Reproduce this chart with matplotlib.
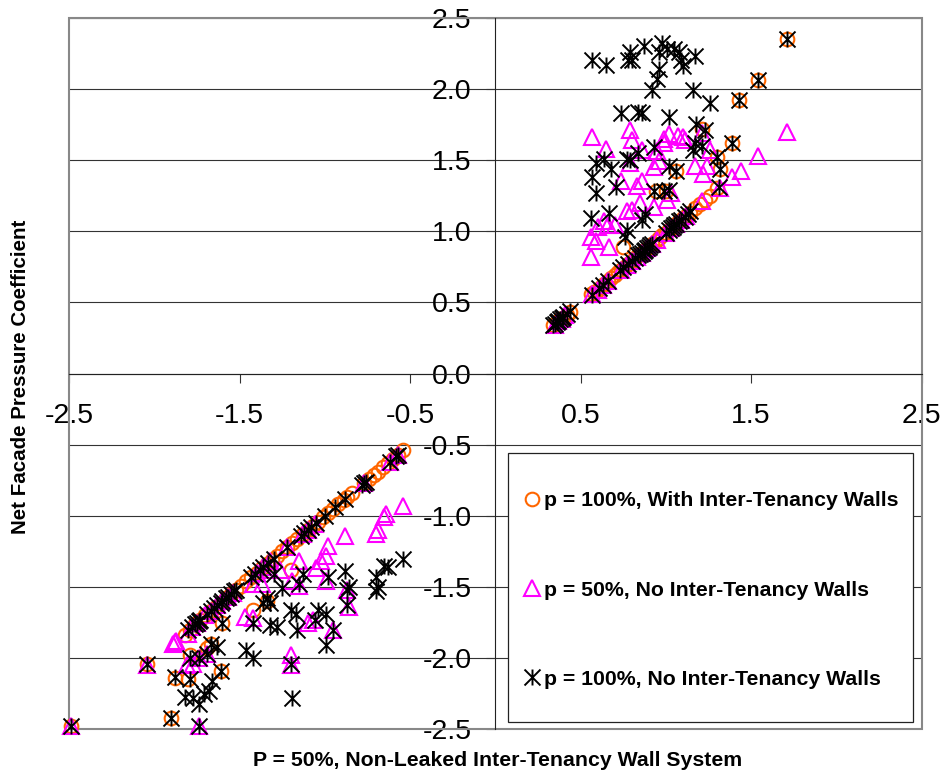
import matplotlib
matplotlib.use('Agg')
import matplotlib.pyplot as plt
from matplotlib.patches import Rectangle
from matplotlib.path import Path

plt.rcParams['font.family'] = ['Liberation Sans', 'DejaVu Sans']

# values
x_orange = [0.34, 0.36, 0.38, 0.40, 0.42, 0.44, 0.56, 0.58, 0.60, 0.62, 0.64, 0.66, 0.68, 0.70, 0.72, 0.74, 0.76,
            0.78, 0.80, 0.82, 0.84, 0.86, 0.88, 0.90, 0.92, 0.94, 0.96, 0.98, 1.00, 1.02, 1.04, 1.06, 1.08, 1.10,
            1.12, 1.14, 1.17, 1.20, 1.23, 1.26, 1.30,
            0.75, 1.71, 1.54, 1.43, 1.39, 1.30, 1.32, 1.06, 1.21, 1.00, 0.94,
            -1.82, -1.79, -1.76, -1.73, -1.70, -1.67, -1.64, -1.61, -1.58, -1.55, -1.52, -1.49, -1.46, -1.43, -1.40,
            -1.37, -1.34, -1.31, -1.28, -1.25, -1.22, -1.19, -1.16, -1.13, -1.10, -1.07, -1.04, -1.01, -0.98, -0.95,
            -0.92, -0.89, -0.87, -0.84, -0.77, -0.74, -0.71, -0.69, -0.66, -0.63, -0.60, -0.57, -0.54,
            -2.49, -1.90, -2.04, -1.88, -1.80, -1.61, -1.79, -1.67, -1.60, -1.42, -1.20, -1.34, -1.69]
y_orange = [0.34, 0.36, 0.38, 0.39, 0.41, 0.43, 0.56, 0.57, 0.59, 0.61, 0.63, 0.65, 0.67, 0.69, 0.71, 0.73, 0.75,
            0.77, 0.79, 0.81, 0.83, 0.85, 0.87, 0.89, 0.91, 0.93, 0.95, 0.97, 0.99, 1.01, 1.03, 1.05, 1.07, 1.09,
            1.11, 1.13, 1.16, 1.19, 1.22, 1.25, 1.30,
            0.89, 2.35, 2.06, 1.92, 1.62, 1.52, 1.44, 1.42, 1.72, 1.28, 1.28,
            -1.84, -1.80, -1.76, -1.73, -1.70, -1.67, -1.64, -1.61, -1.58, -1.55, -1.52, -1.49, -1.46, -1.43, -1.40,
            -1.37, -1.34, -1.31, -1.28, -1.25, -1.22, -1.19, -1.16, -1.13, -1.10, -1.07, -1.04, -1.01, -0.98, -0.95,
            -0.92, -0.89, -0.87, -0.84, -0.77, -0.74, -0.71, -0.69, -0.66, -0.63, -0.60, -0.57, -0.54,
            -2.48, -2.42, -2.04, -2.14, -2.15, -2.09, -1.98, -1.90, -1.75, -1.66, -1.38, -1.60, -1.93]

x_magenta = [0.35, 0.37, 0.39, 0.41, 0.57, 0.60, 0.63, 0.66, 0.74, 0.77, 0.80, 0.83, 0.86, 0.89, 0.92, 0.95, 1.00,
             1.03, 1.06, 1.09, 1.12,
             0.57, 0.65, 0.79, 0.80, 0.86, 0.99, 1.02, 1.07, 1.10, 1.11, 0.99, 1.21, 1.71, 1.54, 1.44, 1.39, 1.26,
             1.17, 1.22, 1.24, 0.95, 0.93, 0.96, 0.79, 0.74, 0.83, 0.86, 1.03, 1.01, 0.85, 0.93, 0.77, 0.80, 0.66,
             0.70, 0.64, 0.60, 0.56, 0.59, 0.67, 0.56, 1.32, 1.21,
             -2.49, -2.04, -1.74, -1.20, -1.20, -1.89, -1.88, -1.87, -1.80, -1.78, -1.75, -1.70,
             -1.67, -1.63, -1.60, -1.57, -1.54, -1.40, -1.36, -1.32, -1.22, -1.13, -1.10, -1.06, -0.77, -0.62, -0.57,
             -1.81, -1.77, -1.74, -1.69, -1.47, -1.42, -1.07, -1.10, -0.95, -0.86, -0.87, -0.99, -1.15, -1.19,
             -1.42, -1.37, -1.26, -1.32, -1.15, -1.05, -1.02, -0.99, -0.98, -0.88, -0.70, -0.69, -0.65, -0.64, -0.54]
y_magenta = [0.34, 0.37, 0.38, 0.41, 0.56, 0.59, 0.62, 0.65, 0.73, 0.76, 0.79, 0.82, 0.85, 0.88, 0.91, 0.94, 0.99,
             1.02, 1.05, 1.08, 1.11,
             1.66, 1.58, 1.71, 1.64, 1.57, 1.65, 1.68, 1.67, 1.66, 1.64, 1.62, 1.69, 1.70, 1.53, 1.42, 1.38, 1.57,
             1.46, 1.40, 1.46, 1.56, 1.45, 1.49, 1.48, 1.35, 1.32, 1.35, 1.27, 1.22, 1.20, 1.17, 1.14, 1.15, 1.04,
             1.04, 1.07, 1.03, 0.96, 0.93, 0.89, 0.82, 1.30, 1.21,
             -2.48, -2.05, -2.48, -1.98, -2.05, -1.90, -1.89, -1.88, -1.83, -1.78, -1.75, -1.70,
             -1.67, -1.63, -1.60, -1.57, -1.54, -1.40, -1.36, -1.32, -1.22, -1.13, -1.10, -1.06, -0.77, -0.62, -0.57,
             -2.05, -2.04, -2.00, -1.97, -1.71, -1.72, -1.73, -1.75, -1.80, -1.64, -1.52, -1.46, -1.49, -1.46,
             -1.48, -1.48, -1.38, -1.38, -1.32, -1.37, -1.32, -1.28, -1.21, -1.14, -1.13, -1.10, -1.01, -0.99, -0.93]

x_black = [0.34, 0.35, 0.36, 0.37, 0.38, 0.39, 0.40, 0.42, 0.44, 0.57, 0.61, 0.63, 0.66, 0.73, 0.75, 0.78, 0.80,
           0.82, 0.84, 0.85, 0.86, 0.87, 0.88, 0.89, 0.90, 0.91, 0.92, 1.00, 1.02, 1.03, 1.04, 1.05, 1.06, 1.08,
           1.09, 1.11, 1.13, 1.14,
           0.57, 0.65, 0.79, 0.78, 0.80, 0.87, 0.96, 0.98, 1.01, 1.05, 1.08, 1.09, 1.17, 1.10, 0.96, 0.95, 0.92,
           1.16, 1.26, 1.43, 1.54, 1.71, 0.74, 0.84, 0.86, 1.02, 1.18, 1.23, 1.39, 0.93, 1.17, 1.21, 1.16, 1.30,
           0.64, 0.59, 0.77, 0.79, 0.84, 0.68, 0.57, 0.59, 0.71, 1.32, 1.06, 1.02, 0.93, 0.99, 1.02, 1.31, 0.56,
           0.67, 0.88, 0.86, 0.77, 0.76,
           -2.49, -1.90, -1.74, -2.04, -1.19, -1.20, -1.46, -1.42, -1.88, -1.79, -1.82, -1.77, -1.74, -1.71, -1.68,
           -1.66, -1.61, -1.79, -1.74, -1.69, -1.67, -1.63, -1.60, -0.99, -0.95, -1.42, -1.32, -1.28, -1.16, -1.20,
           -1.17, -1.04, -1.06, -0.99, -1.34, -1.36, -1.32, -1.25, -1.30, -1.15, -1.13, -0.98, -0.88, -0.86, -0.87,
           -0.87, -0.70, -0.69, -0.70, -0.65, -0.63, -0.54,
           -1.80, -1.78, -1.76, -1.75, -1.74, -1.73, -1.69, -1.67, -1.65, -1.63, -1.61, -1.60, -1.58, -1.57, -1.55,
           -1.53, -1.52, -1.43, -1.41, -1.38, -1.36, -1.33, -1.30, -1.22, -1.14, -1.12, -1.10, -1.08, -1.05, -1.00,
           -0.94, -0.88, -0.78, -0.77, -0.76, -0.62, -0.58, -0.57]
y_black = [0.34, 0.35, 0.36, 0.37, 0.38, 0.39, 0.40, 0.42, 0.44, 0.55, 0.60, 0.62, 0.65, 0.73, 0.75, 0.77, 0.79,
           0.81, 0.83, 0.84, 0.85, 0.86, 0.87, 0.88, 0.89, 0.90, 0.91, 0.99, 1.01, 1.02, 1.03, 1.04, 1.05, 1.07,
           1.08, 1.10, 1.12, 1.14,
           2.20, 2.17, 2.26, 2.20, 2.20, 2.30, 2.26, 2.32, 2.28, 2.28, 2.26, 2.20, 2.23, 2.16, 2.14, 2.07, 1.99,
           1.99, 1.90, 1.92, 2.06, 2.35, 1.83, 1.84, 1.83, 1.80, 1.75, 1.71, 1.62, 1.59, 1.62, 1.60, 1.57, 1.52,
           1.51, 1.48, 1.51, 1.50, 1.55, 1.44, 1.38, 1.27, 1.31, 1.44, 1.42, 1.46, 1.28, 1.28, 1.29, 1.31, 1.09,
           1.13, 1.12, 1.08, 1.01, 0.96,
           -2.48, -2.42, -2.48, -2.04, -2.28, -2.04, -1.94, -2.00, -2.13, -2.15, -2.27, -2.28, -2.32, -2.25, -2.23,
           -2.16, -2.09, -2.00, -2.00, -1.97, -1.90, -1.92, -1.75, -1.91, -1.80, -1.75, -1.77, -1.78, -1.80, -1.66,
           -1.69, -1.66, -1.73, -1.69, -1.58, -1.61, -1.61, -1.51, -1.41, -1.48, -1.41, -1.43, -1.39, -1.50, -1.52,
           -1.63, -1.53, -1.50, -1.43, -1.35, -1.36, -1.30,
           -1.80, -1.78, -1.76, -1.75, -1.74, -1.73, -1.69, -1.67, -1.65, -1.63, -1.61, -1.60, -1.58, -1.57, -1.55,
           -1.53, -1.52, -1.43, -1.41, -1.38, -1.36, -1.33, -1.30, -1.22, -1.14, -1.12, -1.10, -1.08, -1.05, -1.00,
           -0.94, -0.88, -0.78, -0.77, -0.76, -0.62, -0.58, -0.57]

x_ticks = [-2.5, -1.5, -0.5, 0.5, 1.5, 2.5]
y_ticks = [-2.5, -2.0, -1.5, -1.0, -0.5, 0.0, 0.5, 1.0, 1.5, 2.0, 2.5]

# excel's star marker: a cross with a vertical bar through it
star = Path([(-1, -1), (1, 1), (-1, 1), (1, -1), (0, -1), (0, 1)],
            [Path.MOVETO, Path.LINETO, Path.MOVETO, Path.LINETO, Path.MOVETO, Path.LINETO])

W, H = 943, 771
fig = plt.figure(figsize=(W / 100, H / 100), dpi=100)
ax = fig.add_axes([69 / W, 1 - 729.3 / H, (921.5 - 69) / W, (729.3 - 17.7) / H])
ax.set_xlim(-2.5, 2.5)
ax.set_ylim(-2.5, 2.5)

ax.plot(x_orange, y_orange, 'o', ms=9.8, mfc='none', mec='#FF6600', mew=1.5, clip_on=False, zorder=3,
        label='p = 100%, With Inter-Tenancy Walls')
ax.plot(x_magenta, y_magenta, '^', ms=11, mfc='none', mec='#FF00FF', mew=1.5, clip_on=False, zorder=3,
        label='p = 50%, No Inter-Tenancy Walls')
ax.plot(x_black, y_black, marker=star, ls='none', ms=11.5, mfc='none', mec='black', mew=1.4, clip_on=False, zorder=3,
        label='p = 100%, No Inter-Tenancy Walls')

# axes cross at the middle, the plot area has its own grey border
for s in ['top', 'right']:
    ax.spines[s].set_visible(False)
ax.spines['left'].set_position(('data', 0))
ax.spines['bottom'].set_position(('data', 0))
ax.spines['left'].set_color('#222222')
ax.spines['bottom'].set_color('#222222')
ax.spines['left'].set_linewidth(0.8)
ax.spines['bottom'].set_linewidth(0.8)
ax.add_patch(Rectangle((0, 0), 1, 1, transform=ax.transAxes, fill=False, ec='#888888', lw=1.5, clip_on=False, zorder=1))

ax.set_xticks(x_ticks)
ax.set_yticks(y_ticks)
ax.set_xticklabels(['%.1f' % v for v in x_ticks])
ax.set_yticklabels(['%.1f' % v for v in y_ticks])
ax.grid(axis='y', color='#333333', lw=0.8, zorder=0)
ax.set_axisbelow(True)
ax.tick_params(axis='x', direction='out', length=6.5, width=0.8, color='#333333', labelsize=20.5, pad=15)
ax.tick_params(axis='y', direction='out', length=6.5, width=0.8, color='#333333', labelsize=20.5, pad=10.5)
for t in ax.get_xticklabels() + ax.get_yticklabels():
    t.set_zorder(6)

# legend box sits over the grid
ax.add_patch(Rectangle((507.5 / W, 1 - 722 / H), (913 - 507.5) / W, (722 - 453) / H, transform=fig.transFigure,
                       fc='white', ec='#222222', lw=0.9, zorder=5, clip_on=False))
leg = ax.legend(loc='upper left', bbox_to_anchor=(522.5 / W, 1 - 491.5 / H), bbox_transform=fig.transFigure,
                frameon=False, borderpad=0, borderaxespad=0, numpoints=1, handlelength=0.9, handletextpad=0.1,
                labelspacing=3.3, prop={'weight': 'bold', 'size': 15.3})
leg.set_zorder(7)

fig.text(497.5 / W, 1 - 760.5 / H, 'P = 50%, Non-Leaked Inter-Tenancy Wall System', ha='center', va='center',
         fontsize=15.3, fontweight='bold')
fig.text(21 / W, 1 - 376.5 / H, 'Net Facade Pressure Coefficient', ha='center', va='center', rotation=90,
         fontsize=14.8, fontweight='bold')

fig.savefig('out.png', dpi=100)
